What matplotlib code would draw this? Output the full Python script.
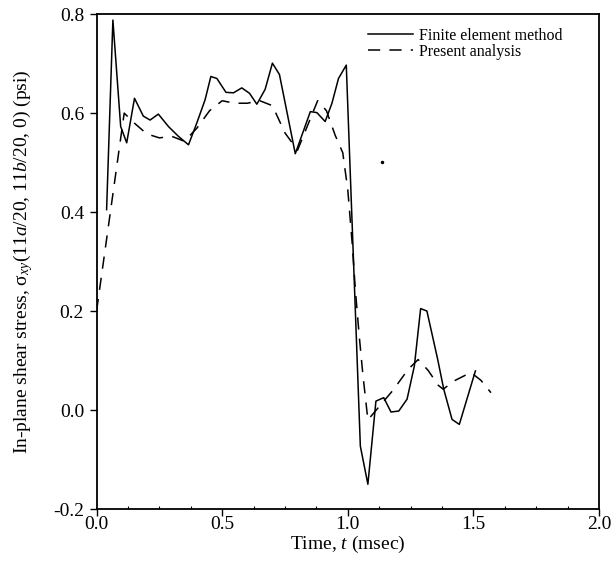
import matplotlib
matplotlib.use('Agg')
import matplotlib.pyplot as plt
from matplotlib.ticker import MultipleLocator

plt.rcParams['font.family'] = ['Liberation Serif', 'DejaVu Serif']
plt.rcParams['mathtext.fontset'] = 'custom'
plt.rcParams['mathtext.rm'] = 'Liberation Serif'
plt.rcParams['mathtext.it'] = 'Liberation Serif:italic'

# finite element method (solid)
fem_t = [0.04, 0.065, 0.096, 0.12, 0.151, 0.186, 0.213, 0.246, 0.286, 0.326,
         0.366, 0.399, 0.432, 0.455, 0.479, 0.515, 0.545, 0.578, 0.609, 0.638,
         0.671, 0.700, 0.728, 0.791, 0.851, 0.877, 0.910, 0.937, 0.963, 0.994,
         1.050, 1.080, 1.112, 1.143, 1.172, 1.203, 1.236, 1.265, 1.29, 1.315,
         1.358, 1.382, 1.415, 1.444, 1.508]
fem_v = [0.405, 0.788, 0.573, 0.540, 0.630, 0.594, 0.586, 0.598, 0.573, 0.553,
         0.536, 0.580, 0.627, 0.674, 0.670, 0.642, 0.641, 0.651, 0.640, 0.618,
         0.648, 0.701, 0.678, 0.518, 0.603, 0.601, 0.583, 0.620, 0.670, 0.697,
         -0.073, -0.150, 0.018, 0.025, -0.004, -0.002, 0.022, 0.089, 0.205, 0.200,
         0.102, 0.042, -0.019, -0.029, 0.079]

# present analysis (dashed)
pa_t = [0.0, 0.11, 0.15, 0.2, 0.25, 0.3, 0.35, 0.4, 0.45, 0.5, 0.55, 0.6,
        0.65, 0.7, 0.75, 0.8, 0.84, 0.88, 0.915, 0.95, 0.98, 1.0, 1.018, 1.03,
        1.045, 1.06, 1.08, 1.13, 1.18, 1.24, 1.28, 1.32, 1.36, 1.38, 1.42,
        1.49, 1.53, 1.57]
pa_v = [0.2, 0.60, 0.58, 0.558, 0.55, 0.553, 0.543, 0.57, 0.605, 0.625, 0.62,
        0.62, 0.625, 0.615, 0.56, 0.525, 0.575, 0.625, 0.605, 0.555, 0.52,
        0.445, 0.334, 0.244, 0.153, 0.072, -0.02, 0.01, 0.04, 0.082, 0.102,
        0.08, 0.05, 0.042, 0.058, 0.076, 0.06, 0.035]

# stray speck in the scan
speck_t = [1.136]
speck_v = [0.502]

x_ticks = [0.0, 0.5, 1.0, 1.5, 2.0]
x_labels = ['0.0', '0.5', '1.0', '1.5', '2.0']
y_ticks = [-0.2, 0.0, 0.2, 0.4, 0.6, 0.8]
y_labels = ['-0.2', '0.0', '0.2', '0.4', '0.6', '0.8']

fig = plt.figure(figsize=(6.15, 5.66), dpi=100)
ax = fig.add_axes([0.157, 0.1007, 0.817, 0.8743])

ax.plot(fem_t, fem_v, color='black', lw=1.1, label='Finite element method')
ax.plot(pa_t, pa_v, color='black', lw=1.1, linestyle=(0, (8, 6)),
        label='Present analysis')
ax.plot(speck_t, speck_v, 'o', color='black', ms=1.5)

ax.set_xlim(0, 2.0)
ax.set_ylim(-0.2, 0.8)
ax.set_xticks(x_ticks)
ax.set_xticklabels(x_labels)
ax.set_yticks(y_ticks)
ax.set_yticklabels(y_labels)
ax.xaxis.set_minor_locator(MultipleLocator(0.125))

ax.tick_params(axis='both', which='major', labelsize=14, direction='out',
               length=5, width=1.0)
ax.tick_params(axis='x', which='major', pad=0)
ax.tick_params(axis='y', which='major', pad=4)
ax.tick_params(axis='x', which='minor', direction='in', length=2.5, width=0.8)
for s in ax.spines.values():
    s.set_linewidth(1.3)

ax.set_xlabel('Time, $t$ (msec)', fontsize=14, labelpad=1)
ax.set_ylabel('In-plane shear stress, σ$_{xy}$(11$a$/20, 11$b$/20, 0) (psi)',
              fontsize=14, labelpad=13)

ax.legend(loc='upper left', bbox_to_anchor=(0.54, 0.972), frameon=False,
          fontsize=11.5, handlelength=2.85, handletextpad=0.35,
          labelspacing=0.0, borderpad=0, borderaxespad=0)

fig.savefig('out.png', dpi=100)
